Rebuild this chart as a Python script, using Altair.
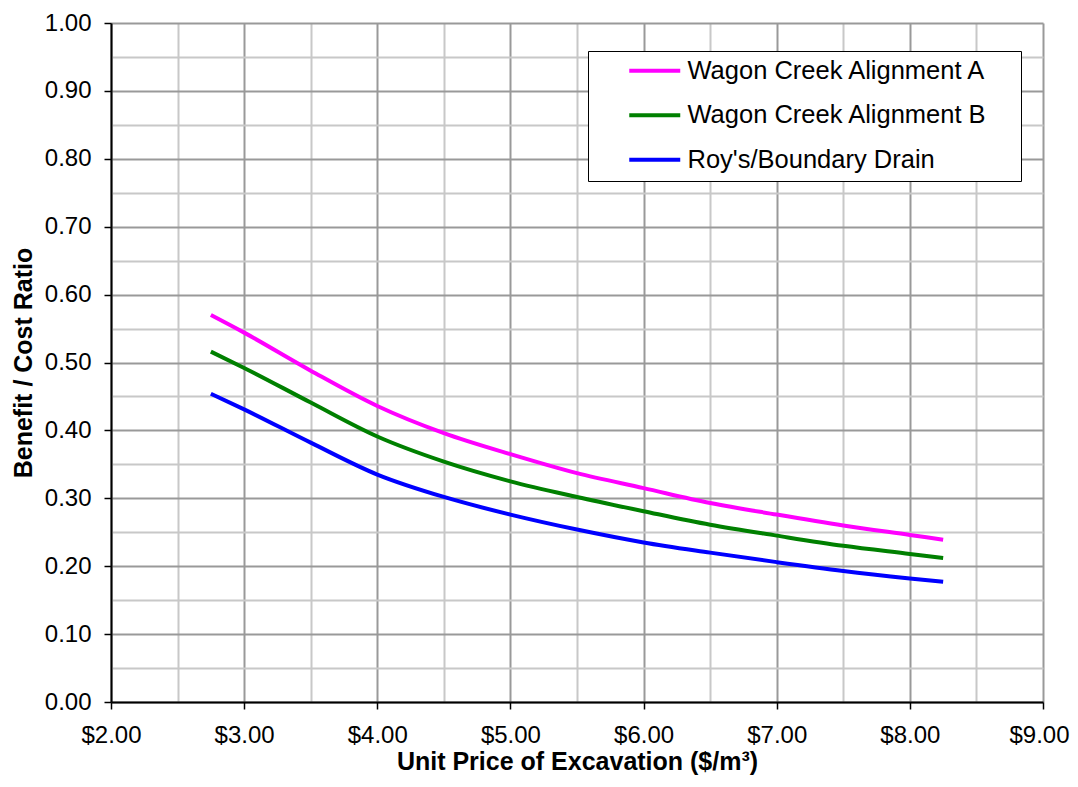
import altair as alt
import pandas as pd

# Unit price of excavation ($/m3)
price = [2.75, 3.0, 3.5, 4.0, 4.5, 5.0, 5.5, 6.0, 6.5, 7.0, 7.5, 8.0, 8.25]
# Benefit / cost ratios
alignment_a = [0.570, 0.544, 0.488, 0.436, 0.396, 0.365, 0.337, 0.315, 0.293, 0.276, 0.260, 0.246, 0.239]
alignment_b = [0.516, 0.492, 0.441, 0.391, 0.354, 0.325, 0.302, 0.281, 0.261, 0.245, 0.230, 0.218, 0.212]
roys_drain = [0.454, 0.431, 0.382, 0.335, 0.302, 0.276, 0.254, 0.235, 0.220, 0.206, 0.193, 0.182, 0.177]

series_names = ["Wagon Creek Alignment A", "Wagon Creek Alignment B", "Roy's/Boundary Drain"]
series_colors = ["#FF00FF", "#008000", "#0000FF"]

x_ticks = [2.0, 2.5, 3.0, 3.5, 4.0, 4.5, 5.0, 5.5, 6.0, 6.5, 7.0, 7.5, 8.0, 8.5, 9.0]
y_ticks = [0.0, 0.05, 0.1, 0.15, 0.2, 0.25, 0.3, 0.35, 0.4, 0.45, 0.5,
           0.55, 0.6, 0.65, 0.7, 0.75, 0.8, 0.85, 0.9, 0.95, 1.0]

rows = []
for name, vals in zip(series_names, [alignment_a, alignment_b, roys_drain]):
    for p, v in zip(price, vals):
        rows.append({"price": p, "ratio": v, "series": name})
df = pd.DataFrame(rows)

FONT = "Liberation Sans"
MAJOR = "#999999"
MINOR = "#c8c8c8"

x_major = "datum.value % 1 === 0"
y_major = "abs(datum.value * 10 - round(datum.value * 10)) < 0.001"

x_axis = alt.Axis(
    values=x_ticks,
    labelExpr=f"({x_major}) ? '$' + format(datum.value, '.2f') : ''",
    gridColor={"condition": {"test": x_major, "value": MAJOR}, "value": MINOR},
    tickColor={"condition": {"test": x_major, "value": "#000000"}, "value": "transparent"},
    labelOffset={"condition": {"test": "datum.value >= 9", "value": -4}, "value": 0},
    gridWidth=2,
    gridOpacity=1,
    domainColor="#000000",
    domainWidth=2,
    tickSize=7,
    tickWidth=1.5,
    labelPadding=14,
    labelFont=FONT,
    labelFontSize=24,
    labelColor="#000000",
    labelFlush=False,
    labelOverlap=False,
    title="Unit Price of Excavation ($/m³)",
    titleFont=FONT,
    titleFontSize=25,
    titleFontWeight="bold",
    titleColor="#000000",
    titleY=59.5,
    titleBaseline="middle",
)

y_axis = alt.Axis(
    values=y_ticks,
    labelExpr=f"({y_major}) ? format(datum.value, '.2f') : ''",
    gridColor={"condition": {"test": y_major, "value": MAJOR}, "value": MINOR},
    tickColor={"condition": {"test": y_major, "value": "#000000"}, "value": "transparent"},
    gridWidth=2,
    gridOpacity=1,
    domainColor="#000000",
    domainWidth=2,
    tickSize=7,
    tickWidth=1.5,
    labelPadding=13,
    labelFont=FONT,
    labelFontSize=24,
    labelColor="#000000",
    labelFlush=False,
    labelOverlap=False,
    title="Benefit / Cost Ratio",
    titleFont=FONT,
    titleFontSize=25,
    titleFontWeight="bold",
    titleColor="#000000",
    titleX=-88,
    titleBaseline="middle",
)

legend = alt.Legend(
    orient="none",
    legendX=477,
    legendY=28,
    title=None,
    fillColor="#ffffff",
    strokeColor="#000000",
    padding=7,
    symbolType="M-2.55,0H2.55",
    symbolSize=400,
    symbolStrokeWidth=4,
    symbolOffset=47,
    labelOffset=20,
    labelFont=FONT,
    labelFontSize=25.5,
    labelColor="#000000",
    labelLimit=0,
    rowPadding=17.5,
    labelExpr="datum.label + '\u00a0\u2800'",
)

chart = alt.Chart(df).mark_line(strokeWidth=4, interpolate="monotone").encode(
    x=alt.X("price:Q", scale=alt.Scale(domain=[2, 9], nice=False, zero=False), axis=x_axis),
    y=alt.Y("ratio:Q", scale=alt.Scale(domain=[0, 1], nice=False), axis=y_axis),
    color=alt.Color("series:N", sort=series_names,
                    scale=alt.Scale(domain=series_names, range=series_colors),
                    legend=legend),
).properties(
    width=932,
    height=679,
    autosize=alt.AutoSizeParams(type="none"),
    padding={"left": 103, "top": 15, "right": 27, "bottom": 76},
).configure_view(stroke="transparent")

chart.save("out.html", embed_options={"renderer": "svg", "actions": False})
